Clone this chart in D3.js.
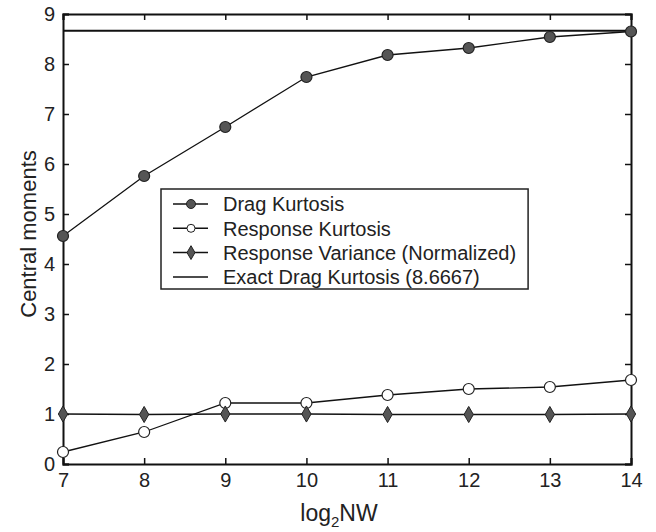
<!DOCTYPE html>
<html><head><meta charset="utf-8">
<script src="https://cdn.jsdelivr.net/npm/d3@7"></script>
<style>body{margin:0;background:#fff}svg{display:block}text{font-family:Arial,"Liberation Sans",sans-serif;fill:#222}</style>
</head><body><svg id="c" width="656" height="532"></svg>
<script>
const xValues = [7, 8, 9, 10, 11, 12, 13, 14];
const dragKurtosis = [4.56, 5.76, 6.74, 7.74, 8.18, 8.32, 8.54, 8.65];
const responseKurtosis = [0.24, 0.64, 1.22, 1.22, 1.38, 1.50, 1.54, 1.68];
const responseVariance = [1.0, 0.99, 1.0, 1.0, 0.99, 0.99, 0.99, 1.0];
const exactDragKurtosis = 8.6667;
const xTicks = [7, 8, 9, 10, 11, 12, 13, 14];
const yTicks = [0, 1, 2, 3, 4, 5, 6, 7, 8, 9];
const legendLabels = ["Drag Kurtosis", "Response Kurtosis", "Response Variance (Normalized)", "Exact Drag Kurtosis (8.6667)"];

const svg = d3.select("#c");
const L = 63, R = 631, T = 14, B = 464;
const x = d3.scaleLinear().domain([7, 14]).range([L, R]);
const y = d3.scaleLinear().domain([0, 9]).range([B, T]);

const tk = 6;
const gB = svg.append("g").attr("transform", `translate(0,${B})`)
  .call(d3.axisBottom(x).tickValues(xTicks).tickSize(-tk).tickPadding(9).tickFormat(d3.format("d")));
const gT = svg.append("g").attr("transform", `translate(0,${T})`)
  .call(d3.axisTop(x).tickValues(xTicks).tickSize(-tk).tickFormat(""));
const gL = svg.append("g").attr("transform", `translate(${L},0)`)
  .call(d3.axisLeft(y).tickValues(yTicks).tickSize(-tk).tickPadding(8).tickFormat(d3.format("d")));
const gR = svg.append("g").attr("transform", `translate(${R},0)`)
  .call(d3.axisRight(y).tickValues(yTicks).tickSize(-tk).tickFormat(""));
[gB, gT, gL, gR].forEach(g => {
  g.select(".domain").attr("stroke", "#111").attr("stroke-width", 2);
  g.selectAll(".tick line").attr("stroke", "#111").attr("stroke-width", 1.5);
  g.selectAll(".tick text").attr("font-size", 20).attr("fill", "#222").attr("font-family", "Arial, 'Liberation Sans', sans-serif");
});

svg.append("line").attr("x1", x(7)).attr("x2", x(14))
  .attr("y1", y(exactDragKurtosis)).attr("y2", y(exactDragKurtosis))
  .attr("stroke", "#111").attr("stroke-width", 2);

const line = d3.line().x((d, i) => x(xValues[i])).y(d => y(d));
function drawSeries(vals, kind) {
  svg.append("path").datum(vals).attr("d", line).attr("fill", "none")
    .attr("stroke", "#111").attr("stroke-width", 1.3);
  const g = svg.append("g");
  vals.forEach((v, i) => {
    const cx = x(xValues[i]), cy = y(v);
    if (kind === "filled") g.append("circle").attr("cx", cx).attr("cy", cy).attr("r", 5.5).attr("fill", "#555").attr("stroke", "#222").attr("stroke-width", 1.2);
    else if (kind === "open") g.append("circle").attr("cx", cx).attr("cy", cy).attr("r", 5.5).attr("fill", "#fff").attr("stroke", "#222").attr("stroke-width", 1.2);
    else g.append("path").attr("d", d3.symbol(d3.symbolDiamond, 75)()).attr("transform", `translate(${cx},${cy})`).attr("fill", "#555").attr("stroke", "#222").attr("stroke-width", 1);
  });
}
drawSeries(dragKurtosis, "filled");
drawSeries(responseKurtosis, "open");
drawSeries(responseVariance, "diamond");

// legend
const lg = svg.append("g");
const box = lg.append("rect").attr("x", 161).attr("y", 189).attr("height", 100)
  .attr("fill", "#fff").attr("stroke", "#222").attr("stroke-width", 1.5);
const kinds = ["filled", "open", "diamond", "none"];
let maxR = 0;
legendLabels.forEach((t, i) => {
  const ly = 204 + i * 24.3;
  lg.append("line").attr("x1", 173).attr("x2", 208).attr("y1", ly).attr("y2", ly).attr("stroke", "#111").attr("stroke-width", 1.5);
  if (kinds[i] === "filled") lg.append("circle").attr("cx", 191).attr("cy", ly).attr("r", 4.5).attr("fill", "#555").attr("stroke", "#222");
  if (kinds[i] === "open") lg.append("circle").attr("cx", 191).attr("cy", ly).attr("r", 4).attr("fill", "#fff").attr("stroke", "#222");
  if (kinds[i] === "diamond") lg.append("path").attr("d", d3.symbol(d3.symbolDiamond, 55)()).attr("transform", `translate(191,${ly})`).attr("fill", "#555").attr("stroke", "#222");
  const tx = lg.append("text").attr("x", 223).attr("y", ly).attr("dy", "0.36em").attr("font-size", 20).text(t);
  maxR = Math.max(maxR, 223 + tx.node().getComputedTextLength());
});
box.attr("width", maxR + 12 - 161);

const xl = svg.append("text").attr("x", 339).attr("y", 521).attr("text-anchor", "middle").attr("font-size", 23);
xl.append("tspan").text("log");
xl.append("tspan").attr("font-size", 15).attr("dy", 6).text("2");
xl.append("tspan").attr("dy", -6).text("NW");
svg.append("text").attr("transform", "translate(36,234) rotate(-90)").attr("text-anchor", "middle")
  .attr("font-size", 22).text("Central moments");
</script></body></html>
